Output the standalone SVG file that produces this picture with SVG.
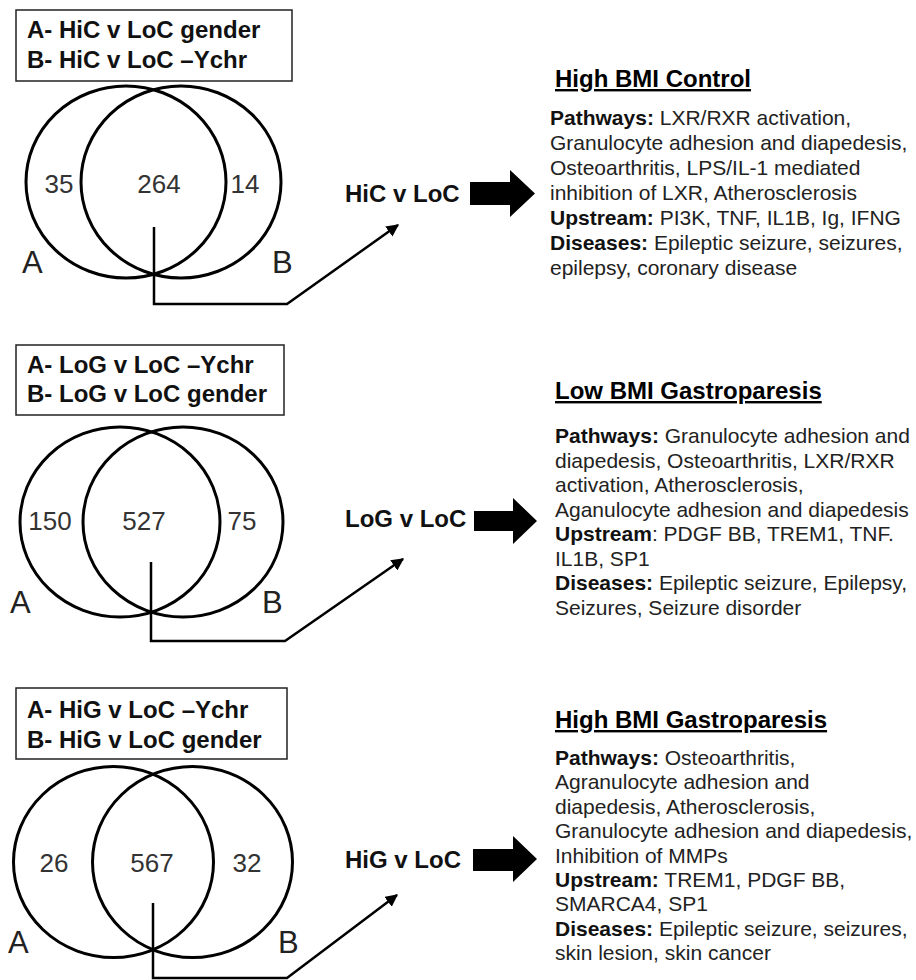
<svg xmlns="http://www.w3.org/2000/svg" width="916" height="980" viewBox="0 0 916 980">
<defs>
<marker id="ah" viewBox="0 0 10 10" refX="9" refY="5" markerWidth="5" markerHeight="5" orient="auto" markerUnits="strokeWidth">
<path d="M0,0 L10,5 L0,10 z" fill="#000"/>
</marker>
<style>
text{font-family:"Liberation Sans",Arial,sans-serif}
.box{fill:none;stroke:#222;stroke-width:1.5}
.bt{font-size:24px;font-weight:bold;fill:#111}
.ven{fill:none;stroke:#000;stroke-width:3}
.num{font-size:26px;fill:#333;text-anchor:middle}
.lbl{font-size:31px;fill:#222}
.cmp{font-size:24px;font-weight:bold;fill:#111}
.ttl{font-size:24px;font-weight:bold;fill:#000;text-decoration:underline}
.body{font-size:21px;fill:#222}
.b{font-weight:bold;fill:#111}
.con{fill:none;stroke:#000;stroke-width:2.5}
.blk{fill:#000}
</style>
</defs>
<rect width="916" height="980" fill="#fff"/>

<!-- Panel 1 -->
<g id="legend1">
<rect class="box" x="16" y="10" width="276" height="71"/>
<text class="bt" x="27" y="38">A- HiC v LoC gender</text>
<text class="bt" x="27" y="68">B- HiC v LoC –Ychr</text>
</g>
<g id="venn1">
<ellipse class="ven" cx="126" cy="182" rx="100" ry="96"/>
<ellipse class="ven" cx="181" cy="182" rx="100" ry="96"/>
<text class="num" x="59" y="193">35</text>
<text class="num" x="159" y="193">264</text>
<text class="num" x="245" y="193">14</text>
<text class="lbl" x="22" y="273">A</text>
<text class="lbl" x="272" y="273">B</text>
</g>
<g id="cmp1">
<text class="cmp" x="345" y="202">HiC v LoC</text>
<polygon class="blk" points="470,182 510,182 510,170 535,193.5 510,217 510,205 470,205"/>
</g>
<g id="res1">
<text class="ttl" x="555" y="87">High BMI Control</text>
<text class="body" x="550" y="125"><tspan class="b">Pathways:</tspan> LXR/RXR activation,</text>
<text class="body" x="550" y="150">Granulocyte adhesion and diapedesis,</text>
<text class="body" x="550" y="175">Osteoarthritis, LPS/IL-1 mediated</text>
<text class="body" x="550" y="200">inhibition of LXR, Atherosclerosis</text>
<text class="body" x="550" y="225"><tspan class="b">Upstream:</tspan> PI3K, TNF, IL1B, Ig, IFNG</text>
<text class="body" x="550" y="250"><tspan class="b">Diseases:</tspan> Epileptic seizure, seizures,</text>
<text class="body" x="550" y="275">epilepsy, coronary disease</text>
</g>

<!-- Panel 2 -->
<g id="legend2">
<rect class="box" x="16" y="345" width="268" height="70"/>
<text class="bt" x="27" y="373">A- LoG v LoC –Ychr</text>
<text class="bt" x="27" y="402">B- LoG v LoC gender</text>
</g>
<g id="venn2">
<ellipse class="ven" cx="120" cy="522" rx="100" ry="95"/>
<ellipse class="ven" cx="183" cy="522" rx="100" ry="95"/>
<text class="num" x="50" y="530">150</text>
<text class="num" x="144" y="530">527</text>
<text class="num" x="242" y="530">75</text>
<text class="lbl" x="10" y="613">A</text>
<text class="lbl" x="262" y="613">B</text>
</g>
<g id="cmp2">
<text class="cmp" x="345" y="527">LoG v LoC</text>
<polygon class="blk" points="474,511 513,511 513,498 537,521 513,544 513,531 474,531"/>
</g>
<g id="res2">
<text class="ttl" x="555" y="399">Low BMI Gastroparesis</text>
<text class="body" x="555" y="443"><tspan class="b">Pathways:</tspan> Granulocyte adhesion and</text>
<text class="body" x="555" y="467.5">diapedesis, Osteoarthritis, LXR/RXR</text>
<text class="body" x="555" y="492">activation, Atherosclerosis,</text>
<text class="body" x="555" y="516.5">Aganulocyte adhesion and diapedesis</text>
<text class="body" x="555" y="541"><tspan class="b">Upstream</tspan>: PDGF BB, TREM1, TNF.</text>
<text class="body" x="555" y="565.5">IL1B, SP1</text>
<text class="body" x="555" y="590"><tspan class="b">Diseases:</tspan> Epileptic seizure, Epilepsy,</text>
<text class="body" x="555" y="614.5">Seizures, Seizure disorder</text>
</g>

<!-- Panel 3 -->
<g id="legend3">
<rect class="box" x="16" y="688" width="271" height="71"/>
<text class="bt" x="27" y="718">A- HiG v LoC –Ychr</text>
<text class="bt" x="27" y="748">B- HiG v LoC gender</text>
</g>
<g id="venn3">
<ellipse class="ven" cx="113.5" cy="862" rx="100" ry="95.5"/>
<ellipse class="ven" cx="192.5" cy="862" rx="100" ry="95.5"/>
<text class="num" x="54" y="872">26</text>
<text class="num" x="152" y="872">567</text>
<text class="num" x="247" y="872">32</text>
<text class="lbl" x="8" y="953">A</text>
<text class="lbl" x="278" y="953">B</text>
</g>
<g id="cmp3">
<text class="cmp" x="345" y="868">HiG v LoC</text>
<polygon class="blk" points="473,849 513,849 513,836 537,859 513,882 513,871 473,871"/>
</g>
<g id="res3">
<text class="ttl" x="555" y="728">High BMI Gastroparesis</text>
<text class="body" x="555" y="765"><tspan class="b">Pathways:</tspan> Osteoarthritis,</text>
<text class="body" x="555" y="789.4">Agranulocyte adhesion and</text>
<text class="body" x="555" y="813.8">diapedesis, Atherosclerosis,</text>
<text class="body" x="555" y="838.2">Granulocyte adhesion and diapedesis,</text>
<text class="body" x="555" y="862.6">Inhibition of MMPs</text>
<text class="body" x="555" y="887"><tspan class="b">Upstream:</tspan> TREM1, PDGF BB,</text>
<text class="body" x="555" y="911.4">SMARCA4, SP1</text>
<text class="body" x="555" y="935.8"><tspan class="b">Diseases:</tspan> Epileptic seizure, seizures,</text>
<text class="body" x="555" y="960.2">skin lesion, skin cancer</text>
</g>

<!-- Connectors -->
<g id="connectors">
<path class="con" d="M154,227 V304 H287 L398,225" marker-end="url(#ah)"/>
<path class="con" d="M151,562 V641 H285 L403,559" marker-end="url(#ah)"/>
<path class="con" d="M153,903 V978 H287 L397,895" marker-end="url(#ah)"/>
</g>
</svg>
